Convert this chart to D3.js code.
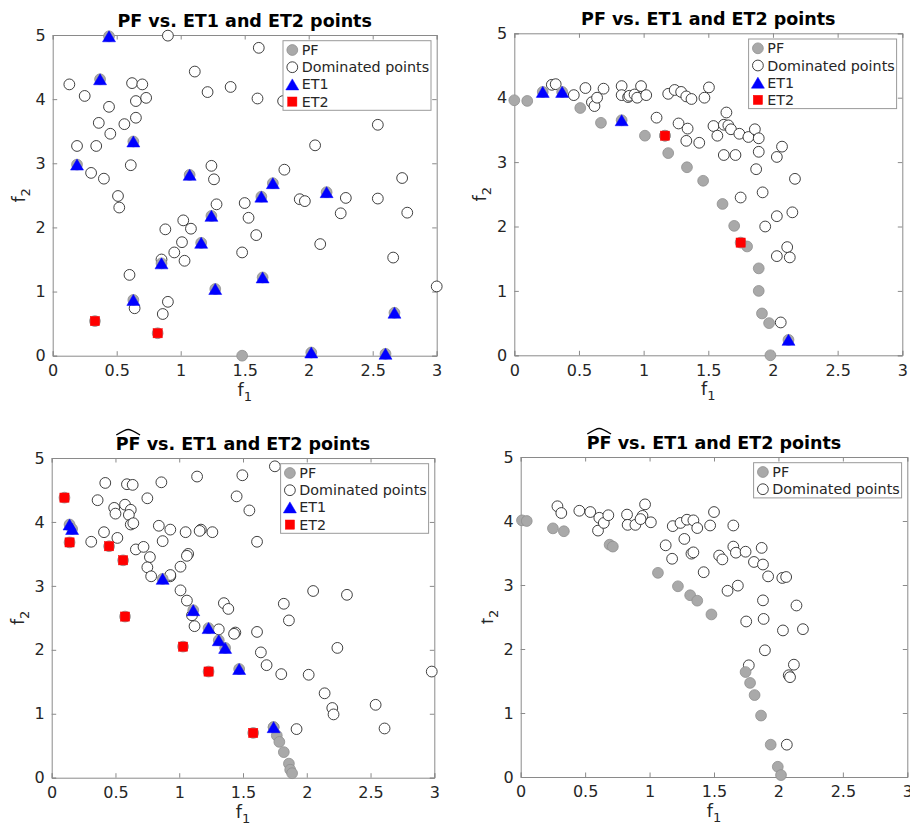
<!DOCTYPE html>
<html><head><meta charset="utf-8">
<script src="https://cdn.jsdelivr.net/npm/d3@7"></script>
<style>
body{margin:0;background:#fff}
text{font-family:"DejaVu Sans",sans-serif}
</style>
</head><body>
<svg id="fig" width="910" height="824"></svg>
<script>
// ---------- data ----------
const xTicks=[0,0.5,1,1.5,2,2.5,3];
const yTicks=[0,1,2,3,4,5];
const titleText="PF vs. ET1 and ET2 points";
const legendFull=["PF","Dominated points","ET1","ET2"];
const legendShort=["PF","Dominated points"];

// Panel 1
const p1PF=[[1.48,0]];
const p1Dom=[[0.90,4.99],[1.61,4.80],[1.11,4.43],[0.13,4.23],[0.62,4.25],[0.70,4.23],[0.25,4.05],[0.65,3.97],[0.73,4.02],[1.21,4.11],[1.39,4.19],[1.60,4.01],[1.80,3.97],[0.44,3.88],[0.36,3.63],[0.56,3.61],[0.65,3.71],[0.45,3.46],[0.19,3.27],[0.34,3.27],[0.61,2.97],[0.30,2.85],[0.40,2.76],[0.51,2.49],[0.52,2.31],[2.54,3.60],[2.05,3.28],[1.81,2.90],[1.24,2.96],[1.26,2.75],[1.28,2.36],[1.50,2.38],[1.53,2.15],[1.59,1.88],[1.48,1.61],[1.02,2.11],[1.08,1.98],[0.88,1.97],[1.01,1.77],[0.95,1.61],[1.03,1.48],[0.85,1.50],[1.93,2.44],[1.97,2.41],[2.29,2.46],[2.25,2.22],[2.09,1.74],[2.54,2.45],[2.73,2.77],[2.77,2.23],[2.66,1.53],[3.00,1.08],[0.60,1.26],[0.64,0.74],[0.90,0.84],[0.86,0.65]];
const p1ET1=[[0.44,4.98],[0.37,4.31],[0.63,3.34],[0.19,2.98],[1.07,2.82],[1.72,2.69],[1.63,2.48],[2.14,2.55],[1.24,2.18],[1.16,1.76],[0.85,1.44],[0.63,0.87],[1.27,1.04],[1.64,1.22],[2.67,0.67],[2.02,0.05],[2.60,0.03]];
const p1ET2=[[0.33,0.54],[0.82,0.35]];

// Panel 2
const p2PF=[[0,3.96],[0.10,3.95],[0.51,3.84],[0.67,3.61],[1.01,3.41],[1.165,3.41],[1.19,3.14],[1.335,2.92],[1.46,2.71],[1.61,2.35],[1.70,2.01],[1.80,1.69],[1.89,1.35],[1.89,1.00],[1.915,0.65],[1.97,0.50],[1.98,0.00]];
const p2Dom=[[0.29,4.20],[0.32,4.21],[0.46,4.04],[0.55,4.15],[0.60,3.93],[0.62,3.87],[0.64,4.00],[0.69,4.14],[0.83,4.18],[0.83,4.04],[0.88,4.01],[0.89,4.03],[0.93,4.05],[0.95,4.00],[0.98,4.18],[1.02,4.04],[1.19,4.06],[1.24,4.12],[1.29,4.09],[1.33,4.02],[1.37,3.98],[1.47,4.00],[1.505,4.16],[1.10,3.69],[1.27,3.60],[1.34,3.52],[1.33,3.33],[1.43,3.30],[1.54,3.56],[1.57,3.41],[1.64,3.77],[1.62,3.58],[1.655,3.57],[1.675,3.51],[1.74,3.44],[1.81,3.39],[1.86,3.51],[1.89,3.37],[1.89,3.16],[1.62,3.11],[1.71,3.11],[2.03,3.08],[2.07,3.24],[2.17,2.74],[1.87,2.89],[1.75,2.45],[1.92,2.53],[2.03,2.16],[2.15,2.22],[1.94,2.00],[2.03,1.54],[2.11,1.68],[2.13,1.52],[2.06,0.51]];
const p2ET1=[[0.22,4.09],[0.37,4.09],[0.83,3.65],[2.12,0.24]];
const p2ET2=[[1.165,3.41],[1.75,1.75]];

// Panel 3
const p3PF=[[1.74,0.79],[1.765,0.66],[1.785,0.56],[1.82,0.40],[1.86,0.22],[1.87,0.125],[1.885,0.07]];
const p3Dom=[[0.42,4.61],[0.59,4.59],[0.635,4.58],[0.86,4.62],[1.14,4.71],[1.495,4.73],[1.75,4.87],[0.36,4.34],[0.75,4.37],[1.45,4.40],[1.55,4.18],[0.49,4.22],[0.575,4.27],[0.62,4.19],[0.50,4.13],[0.605,4.11],[0.62,3.96],[0.64,3.98],[0.41,3.84],[0.515,3.75],[0.31,3.69],[0.84,3.94],[0.93,3.88],[1.05,3.84],[0.87,3.70],[1.17,3.88],[1.16,3.86],[1.26,3.84],[1.61,3.69],[0.66,3.57],[0.72,3.61],[0.77,3.45],[0.75,3.29],[0.78,3.15],[0.93,3.15],[0.93,3.17],[1.01,3.30],[1.07,3.50],[1.06,3.47],[1.01,2.93],[1.06,2.77],[1.10,2.54],[1.12,2.37],[1.35,2.73],[1.385,2.64],[1.31,2.32],[1.44,2.27],[1.43,2.25],[1.61,2.28],[1.64,1.96],[1.685,1.76],[1.80,1.62],[1.82,2.72],[1.86,2.46],[2.05,2.92],[2.315,2.86],[2.24,2.03],[2.015,1.61],[2.14,1.32],[2.20,1.09],[2.21,0.99],[2.54,1.14],[2.61,0.77],[2.98,1.66],[1.92,0.76]];
const p3ET1=[[0.14,3.96],[0.16,3.89],[0.87,3.11],[1.11,2.62],[1.23,2.34],[1.31,2.15],[1.36,2.03],[1.47,1.70],[1.74,0.79]];
const p3ET2=[[0.10,4.38],[0.14,3.68],[0.45,3.62],[0.56,3.40],[0.575,2.52],[1.03,2.05],[1.23,1.66],[1.58,0.70]];

// Panel 4
const p4PF=[[0.01,4.01],[0.047,4.00],[0.25,3.885],[0.335,3.84],[0.69,3.63],[0.715,3.60],[1.065,3.19],[1.22,2.98],[1.315,2.84],[1.37,2.755],[1.48,2.54],[1.745,1.64],[1.78,1.47],[1.815,1.28],[1.865,0.96],[1.94,0.505],[1.995,0.16],[2.02,0.03]];
const p4Dom=[[0.285,4.23],[0.315,4.125],[0.455,4.16],[0.54,4.14],[0.61,4.05],[0.60,3.85],[0.645,3.97],[0.68,4.09],[0.825,4.10],[0.83,3.94],[0.89,3.94],[0.945,4.08],[0.965,4.26],[1.01,3.98],[0.93,4.03],[1.18,3.92],[1.24,3.97],[1.29,4.02],[1.34,4.01],[1.37,3.89],[1.47,3.93],[1.50,4.14],[1.125,3.62],[1.27,3.72],[1.175,3.41],[1.325,3.49],[1.34,3.51],[1.42,3.20],[1.54,3.46],[1.565,3.40],[1.65,3.93],[1.65,3.60],[1.67,3.505],[1.745,3.52],[1.605,2.91],[1.685,2.99],[1.81,3.36],[1.87,3.58],[1.88,3.32],[1.92,3.135],[2.03,3.11],[2.06,3.125],[1.75,2.43],[1.88,2.76],[1.885,2.47],[2.14,2.68],[2.035,2.29],[2.19,2.31],[1.895,1.98],[1.77,1.745],[2.12,1.755],[2.08,1.59],[2.09,1.56],[2.065,0.505]];

// ---------- drawing ----------
const svg=d3.select("#fig");
const AX="#8a8a8a", TXT="#262626";
const PF_FILL="#a9a9a9", PF_STROKE="#8f8f8f";
const R=5.4;

const panels=[
 {x0:52.7,x1:436.7,yT:35,yB:355.7,pf:p1PF,dom:p1Dom,et1:p1ET1,et2:p1ET2,hat:false,legend:legendFull},
 {x0:514.3,x1:902.3,yT:33.3,yB:355.3,pf:p2PF,dom:p2Dom,et1:p2ET1,et2:p2ET2,hat:false,legend:legendFull},
 {x0:51.7,x1:434.3,yT:458,yB:777.7,pf:p3PF,dom:p3Dom,et1:p3ET1,et2:p3ET2,hat:true,legend:legendFull},
 {x0:520.7,x1:907.3,yT:457,yB:777,pf:p4PF,dom:p4Dom,et1:[],et2:[],hat:true,legend:legendShort,clipY:481.5}
];

const triPath=(w,h)=>`M0,${-h/2}L${w/2},${h/2}L${-w/2},${h/2}Z`;

function drawMarker(g,type,cx,cy){
  if(type==="PF"){
    g.append("circle").attr("cx",cx).attr("cy",cy).attr("r",R).attr("fill",PF_FILL).attr("stroke",PF_STROKE).attr("stroke-width",0.8);
  } else if(type==="Dominated points"){
    g.append("circle").attr("cx",cx).attr("cy",cy).attr("r",R).attr("fill","#fff").attr("stroke","#2a2a2a").attr("stroke-width",0.9);
  } else if(type==="ET1"){
    g.append("path").attr("d",triPath(13,11)).attr("transform",`translate(${cx},${cy})`).attr("fill","#0000ff").attr("stroke","#0000ff").attr("stroke-width",0.5);
  } else {
    g.append("rect").attr("x",cx-4.6).attr("y",cy-4.6).attr("width",9.2).attr("height",9.2).attr("fill","#ff0000").attr("stroke","#ff0000").attr("stroke-width",0.5);
  }
}

panels.forEach((p,i)=>{
  const x=d3.scaleLinear().domain([0,3]).range([p.x0,p.x1]);
  const y=d3.scaleLinear().domain([0,5]).range([p.yB,p.yT]);
  const g=svg.append("g");

  // axes frame & ticks
  const axB=g.append("g").attr("transform",`translate(0,${p.yB})`).call(d3.axisBottom(x).tickValues(xTicks).tickSize(-4.5).tickPadding(9).tickFormat(d=>d3.format("")(d)));
  const axT=g.append("g").attr("transform",`translate(0,${p.yT})`).call(d3.axisTop(x).tickValues(xTicks).tickSize(-4.5).tickFormat(""));
  const axL=g.append("g").attr("transform",`translate(${p.x0},0)`).call(d3.axisLeft(y).tickValues(yTicks).tickSize(-4.5).tickPadding(7).tickFormat(d3.format("d")));
  const axR=g.append("g").attr("transform",`translate(${p.x1},0)`).call(d3.axisRight(y).tickValues(yTicks).tickSize(-4.5).tickFormat(""));
  [axB,axT,axL,axR].forEach(a=>{
    a.select(".domain").attr("stroke",AX).attr("stroke-width",1);
    a.selectAll(".tick line").attr("stroke",AX);
    a.selectAll(".tick text").attr("fill",TXT).style("font-size","16px").style("font-family","DejaVu Sans");
  });

  // points
  const pts=g.append("g");
  p.dom.forEach(d=>drawMarker(pts,"Dominated points",x(d[0]),y(d[1])));
  p.pf.forEach(d=>drawMarker(pts,"PF",x(d[0]),y(d[1])));
  p.et1.concat(p.et2).forEach(d=>drawMarker(pts,"PF",x(d[0]),y(d[1])));
  p.et1.forEach(d=>drawMarker(pts,"ET1",x(d[0]),y(d[1])));
  p.et2.forEach(d=>drawMarker(pts,"ET2",x(d[0]),y(d[1])));

  // legend
  const n=p.legend.length, lw=148, lx=p.x1-5.7-lw, ly=p.yT+5.7, lh=18+(n-1)*17.2;
  const lg=g.append("g");
  lg.append("rect").attr("x",lx).attr("y",ly).attr("width",lw).attr("height",lh).attr("fill","#fff").attr("stroke","#9a9a9a").attr("stroke-width",1);
  p.legend.forEach((lab,k)=>{
    const cy=ly+9.3+k*17.2;
    drawMarker(lg,lab,lx+9.3,cy);
    lg.append("text").attr("x",lx+18.7).attr("y",cy+5).attr("fill",TXT).style("font-size","14.3px").text(lab);
  });

  // title
  const cx=(p.x0+p.x1)/2;
  const t=g.append("text").attr("x",cx).attr("y",p.yT-8).attr("text-anchor","middle").attr("fill","#000")
    .style("font-size","17.5px").style("font-weight","bold").text(titleText);
  if(p.hat){
    const n0=t.node();
    const sx=n0.getStartPositionOfChar(0).x, ex=n0.getEndPositionOfChar(1).x;
    const by=p.yT-8;
    g.append("path").attr("d",`M${sx+0.5},${by-15}Q${(sx+ex)/2-3},${by-20.5} ${(sx+ex)/2},${by-20.5}Q${(sx+ex)/2+3},${by-20.5} ${ex-0.5},${by-15}`)
      .attr("fill","none").attr("stroke","#000").attr("stroke-width",1.3);
  }

  // x label
  const xl=g.append("text").attr("x",cx).attr("y",p.yB+40).attr("text-anchor","middle").attr("fill",TXT).style("font-size","17.6px");
  xl.append("tspan").text("f");
  xl.append("tspan").attr("dy",5).style("font-size","13px").text("1");

  // y label
  let yg=g;
  if(p.clipY){
    svg.append("defs").append("clipPath").attr("id","clipy"+i).append("rect").attr("x",p.clipY).attr("y",p.yT).attr("width",100).attr("height",p.yB-p.yT);
    yg=g.append("g").attr("clip-path",`url(#clipy${i})`);
  }
  const ycy=(p.yT+p.yB)/2;
  const yl=yg.append("text").attr("transform",`translate(${p.x0-28},${ycy}) rotate(-90)`).attr("text-anchor","middle").attr("fill",TXT).style("font-size","17.6px");
  yl.append("tspan").text("f");
  yl.append("tspan").attr("dy",5).style("font-size","13px").text("2");
});
</script>
</body></html>
